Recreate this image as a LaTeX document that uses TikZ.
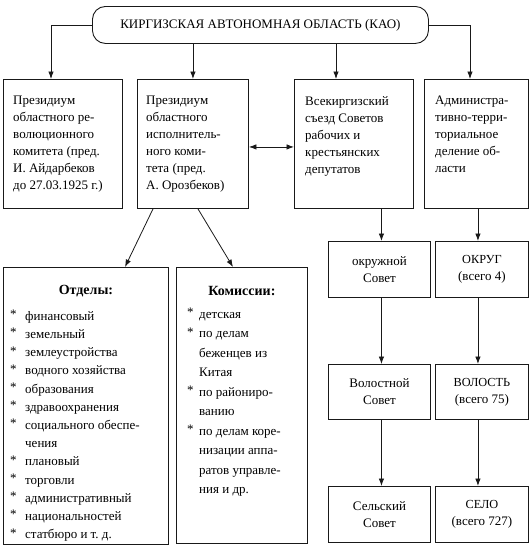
\documentclass[tikz,border=0pt]{standalone}
\usepackage{fontspec}
\setmainfont{Liberation Serif}
\usetikzlibrary{arrows.meta,calc}
\begin{document}
\begin{tikzpicture}[x=1pt,y=-1pt,
  box/.style={draw=black!90, line width=0.9pt, inner sep=0pt, anchor=north west},
  txt/.style={inner sep=0pt, anchor=north west, align=left, font=\fontsize{13}{17}\selectfont},
  ctxt/.style={align=center, font=\fontsize{13}{17}\selectfont},
  arr/.style={draw=black!90, line width=0.8pt, -{Latex[length=7.5pt,width=5.5pt]}},
  darr/.style={draw=black!90, line width=0.8pt, {Latex[length=7.5pt,width=5.5pt]}-{Latex[length=7.5pt,width=5.5pt]}},
]
\newcommand{\capsz}[1]{{\fontsize{12.3}{17}\selectfont #1}}
\newcommand{\itA}{\makebox[15pt][l]{\raisebox{1.5pt}{*}}}
\newcommand{\itB}{\makebox[12pt][l]{\raisebox{1.5pt}{*}}}
\useasboundingbox (0,0) rectangle (532,549);
% top
\node[box, rounded corners=13pt, minimum width=336pt, minimum height=37pt, font=\fontsize{13}{15}\selectfont] (kao) at (92,6) {КИРГИЗСКАЯ АВТОНОМНАЯ ОБЛАСТЬ (КАО)};
% row 1
\node[box, minimum width=119pt, minimum height=129pt] (b1) at (3,79) {};
\node[box, minimum width=111pt, minimum height=129pt] (b2) at (137,79) {};
\node[box, minimum width=119pt, minimum height=129pt] (b3) at (294,79) {};
\node[box, minimum width=104pt, minimum height=129pt] (b4) at (424,79) {};
\node[txt] (t1) at ($(b1.north west)+(10,17)$) {Президиум\\областного ре-\\волюционного\\комитета (пред.\\И. Айдарбеков\\до 27.03.1925 г.)};
\node[txt] (t2) at ($(b2.north west)+(9,17)$) {Президиум\\областного\\исполнитель-\\ного коми-\\тета (пред.\\А. Орозбеков)};
\node[txt] (t3) at ($(b3.north west)+(11,17)$) {Всекиргизский\\съезд Советов\\рабочих и\\крестьянских\\депутатов};
\node[txt] (t4) at ($(b4.north west)+(11,17)$) {Администра-\\тивно-терри-\\ториальное\\деление об-\\ласти};
% lower left boxes
\node[box, minimum width=165pt, minimum height=277pt] (otd) at (3,267) {};
\node[box, minimum width=131pt, minimum height=276pt] (kom) at (176,267) {};
\node[inner sep=0pt, font=\fontsize{14}{17}\bfseries] (otdh) at ($(otd.north)+(0,24)$) {Отделы:};
\node[inner sep=0pt, font=\fontsize{14}{17}\bfseries] (komh) at ($(kom.north)+(0,24)$) {Комиссии:};
\node[txt, font=\fontsize{13}{18.2}\selectfont] (otdl) at ($(otd.north west)+(7,43)$) {%
\itA финансовый\\
\itA земельный\\
\itA землеустройства\\
\itA водного хозяйства\\
\itA образования\\
\itA здравоохранения\\
\itA социального обеспе-\\
\hspace*{15pt}чения\\
\itA плановый\\
\itA торговли\\
\itA административный\\
\itA национальностей\\
\itA статбюро и т.~д.};
\node[txt, font=\fontsize{13}{19.5}\selectfont] (koml) at ($(kom.north west)+(11,41)$) {%
\itB детская\\
\itB по делам\\
\hspace*{12pt}беженцев из\\
\hspace*{12pt}Китая\\
\itB по райониро-\\
\hspace*{12pt}ванию\\
\itB по делам коре-\\
\hspace*{12pt}низации аппа-\\
\hspace*{12pt}ратов управле-\\
\hspace*{12pt}ния и др.};
% right columns
\node[box, ctxt, minimum width=102pt, minimum height=56pt] (ok) at (328,241) {окружной\\Совет};
\node[box, ctxt, minimum width=93pt, minimum height=56pt] (okr) at (435,241) {\capsz{ОКРУГ}\\(всего 4)};
\node[box, ctxt, minimum width=102pt, minimum height=55pt] (vol) at (328,364) {Волостной\\Совет};
\node[box, ctxt, minimum width=93pt, minimum height=55pt] (volr) at (435,364) {\capsz{ВОЛОСТЬ}\\(всего 75)};
\node[box, ctxt, minimum width=102pt, minimum height=56pt] (sel) at (328,486) {Сельский\\Совет};
\node[box, ctxt, minimum width=93pt, minimum height=56pt] (selr) at (435,486) {\capsz{СЕЛО}\\(всего 727)};
% connectors
\draw[arr] (kao.west) -| ($(b1.north west)+(48,0)$);
\draw[arr] (kao.south -| b2.north) -- (b2.north);
\draw[arr] ($(kao.south -| b3.north west)+(42,0)$) -- ($(b3.north west)+(42,0)$);
\draw[arr] (kao.east) -| ($(b4.north west)+(46,0)$);
\draw[darr] ($(b2.east)+(0,3)$) -- ($(b3.west)+(0,3)$);
\draw[arr] ($(b2.south west)+(16,0)$) -- ($(otd.north west)+(122,0)$);
\draw[arr] ($(b2.south west)+(61,0)$) -- ($(kom.north west)+(57,0)$);
\draw[arr] ($(ok.north |- b3.south)+(2,0)$) -- ($(ok.north)+(2,0)$);
\draw[arr] ($(ok.south)+(2,0)$) -- ($(vol.north)+(2,0)$);
\draw[arr] ($(vol.south)+(2,0)$) -- ($(sel.north)+(2,0)$);
\draw[arr] ($(okr.north |- b4.south)+(-4,0)$) -- ($(okr.north)+(-4,0)$);
\draw[arr] ($(okr.south)+(-4,0)$) -- ($(volr.north)+(-4,0)$);
\draw[arr] ($(volr.south)+(-4,0)$) -- ($(selr.north)+(-4,0)$);
\end{tikzpicture}
\end{document}
